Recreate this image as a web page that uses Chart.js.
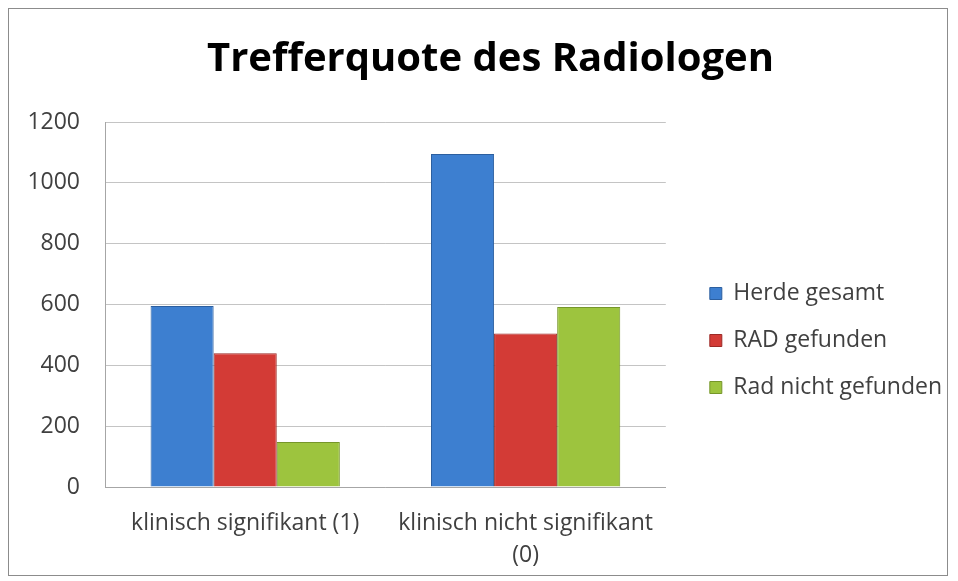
<!DOCTYPE html>
<html>
<head>
<meta charset="utf-8">
<script src="https://cdn.jsdelivr.net/npm/chart.js@4"></script>
<style>
    html, body { margin: 0; padding: 0; background: #fff; }
    #wrap {
        position: absolute; left: 8px; top: 8px;
        width: 940px; height: 568px;
        border: 1px solid #8c8c8c;
        box-sizing: border-box;
    }
</style>
</head>
<body>
<div id="wrap"><canvas id="radChart"></canvas></div>
<script>
const categories = ['klinisch signifikant (1)', ['klinisch nicht signifikant', '(0)']];
const herdeGesamt = [595, 1095];
const radGefunden = [440, 505];
const radNichtGefunden = [148, 592];
const yTicks = [0, 200, 400, 600, 800, 1000, 1200];

const trefferChart = () => {
    const ctx = document.getElementById('radChart').getContext('2d');

    new Chart(ctx, {
        type: 'bar',
        data: {
            labels: categories,
            datasets: [
                {
                    label: 'Herde gesamt',
                    data: herdeGesamt,
                    backgroundColor: '#3d7fd0',
                    borderColor: '#2c5f9f',
                    borderWidth: 1,
                },
                {
                    label: 'RAD gefunden',
                    data: radGefunden,
                    backgroundColor: '#d33b36',
                    borderColor: '#9c2a26',
                    borderWidth: 1,
                },
                {
                    label: 'Rad nicht gefunden',
                    data: radNichtGefunden,
                    backgroundColor: '#9dc43e',
                    borderColor: '#76962a',
                    borderWidth: 1,
                }
            ]
        },
        options: {
            responsive: true,
            maintainAspectRatio: false,
            animation: false,
            categoryPercentage: 0.675,
            barPercentage: 1,
            layout: {
                padding: { left: 20, right: -5, top: 0, bottom: 4 }
            },
            scales: {
                y: {
                    min: 0,
                    max: 1200,
                    afterBuildTicks: (axis) => {
                        axis.ticks = yTicks.map(v => ({ value: v }));
                    },
                    afterFit: (axis) => {
                        axis.width = 76;
                    },
                    grid: {
                        color: '#c4c4c4',
                        drawTicks: false,
                    },
                    border: { color: '#a6a6a6' },
                    ticks: {
                        color: '#404040',
                        padding: 25,
                        font: { family: 'Open Sans', size: 23 },
                        callback: (v) => String(v)
                    }
                },
                // empty spacer between the plot and the legend
                ySpacer: {
                    position: 'right',
                    display: true,
                    grid: { display: false, drawTicks: false },
                    border: { display: false },
                    ticks: { display: false },
                    afterFit: (axis) => {
                        axis.width = 20;
                    }
                },
                x: {
                    grid: { display: false, drawTicks: false },
                    border: { color: '#a6a6a6' },
                    afterFit: (axis) => {
                        axis.height = 84;
                    },
                    ticks: {
                        color: '#404040',
                        padding: 20,
                        font: { family: 'Open Sans', size: 23, lineHeight: 1.39 },
                        maxRotation: 0
                    }
                }
            },
            plugins: {
                title: {
                    display: true,
                    text: 'Trefferquote des Radiologen',
                    color: '#000',
                    font: { family: 'Open Sans', size: 40, weight: 'bold' },
                    padding: { top: 27, bottom: 38 }
                },
                legend: {
                    position: 'right',
                    maxWidth: 300,
                    title: {
                        display: true,
                        text: ' ',
                        font: { size: 10 },
                        padding: { top: 89, bottom: 0 }
                    },
                    labels: {
                        boxWidth: 12,
                        boxHeight: 12,
                        padding: 24,
                        color: '#404040',
                        font: { family: 'Open Sans', size: 23 }
                    }
                },
                tooltip: { enabled: false }
            }
        }
    });
}

document.addEventListener('DOMContentLoaded', trefferChart);
</script>
</body>
</html>
